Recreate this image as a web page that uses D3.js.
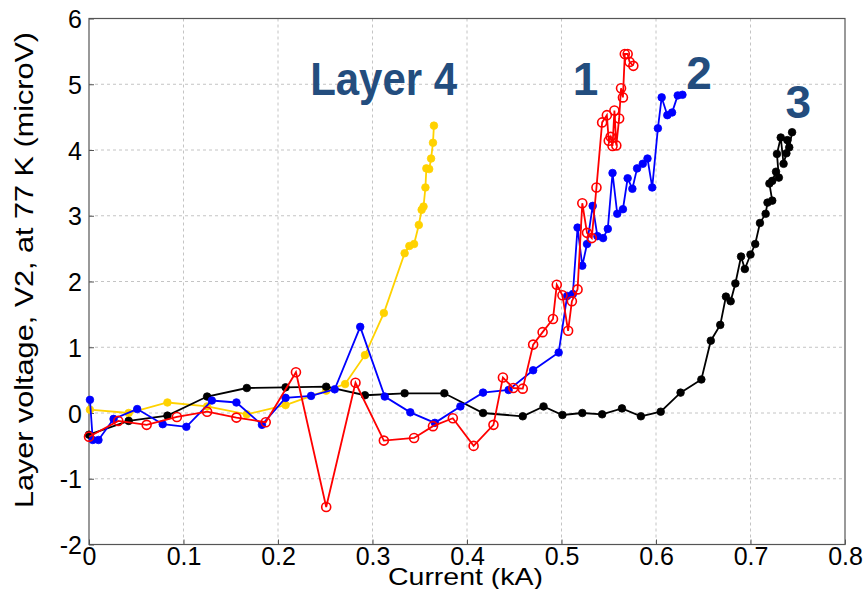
<!DOCTYPE html>
<html>
<head>
<meta charset="utf-8">
<script src="https://cdn.jsdelivr.net/npm/d3@7"></script>
<style>
  body { margin: 0; background: #fff; }
  text { font-family: "Liberation Sans", Arial, sans-serif; }
</style>
</head>
<body>
<div id="chart"></div>
<script>
// data: [current kA, voltage microV]
var layer1 = [[0.000,-0.36],[0.031,-0.12],[0.061,-0.18],[0.093,-0.06],[0.125,0.02],[0.156,-0.07],[0.187,-0.14],
  [0.219,0.62],[0.251,-1.43],[0.282,0.46],[0.312,-0.42],[0.344,-0.38],[0.364,-0.20],[0.385,-0.08],[0.407,-0.50],
  [0.428,-0.18],[0.438,0.54],[0.449,0.38],[0.459,0.37],[0.470,1.04],[0.480,1.23],[0.491,1.43],[0.495,1.95],
  [0.501,1.79],[0.507,1.25],[0.511,1.70],[0.517,1.88],[0.522,3.19],[0.527,2.74],[0.532,2.66],[0.537,3.43],
  [0.543,4.42],[0.548,4.53],[0.550,4.14],[0.552,4.20],[0.554,4.06],[0.556,4.60],[0.558,4.07],[0.561,4.48],
  [0.563,4.94],[0.565,4.80],[0.567,5.46],[0.570,5.46],[0.572,5.34],[0.576,5.28]];

var layer2 = [[0.001,0.20],[0.004,-0.41],[0.010,-0.41],[0.026,-0.09],[0.051,0.06],[0.078,-0.17],[0.103,-0.21],
  [0.130,0.19],[0.156,0.16],[0.183,-0.18],[0.208,0.23],[0.235,0.26],[0.260,0.36],[0.287,1.31],[0.313,0.25],
  [0.340,0.01],[0.366,-0.15],[0.393,0.10],[0.417,0.31],[0.444,0.35],[0.470,0.65],[0.497,0.92],[0.506,1.78],
  [0.512,1.81],[0.517,2.82],[0.522,2.24],[0.527,2.57],[0.533,3.15],[0.538,2.69],[0.544,2.66],[0.549,2.80],
  [0.554,3.65],[0.559,3.03],[0.565,3.10],[0.570,3.57],[0.575,3.41],[0.580,3.72],[0.586,3.79],[0.591,3.87],
  [0.596,3.43],[0.602,4.33],[0.606,4.80],[0.612,4.53],[0.617,4.57],[0.623,4.83],[0.628,4.84]];

var layer3 = [[0.000,-0.33],[0.042,-0.12],[0.083,-0.04],[0.125,0.25],[0.167,0.38],[0.208,0.39],[0.251,0.40],
  [0.292,0.27],[0.334,0.30],[0.376,0.30],[0.417,0.00],[0.459,-0.05],[0.481,0.10],[0.501,-0.03],[0.522,0.00],
  [0.543,-0.02],[0.564,0.07],[0.584,-0.05],[0.605,0.02],[0.626,0.31],[0.648,0.51],[0.658,1.10],[0.668,1.34],
  [0.674,1.77],[0.679,1.70],[0.684,1.97],[0.690,2.38],[0.694,2.19],[0.700,2.41],[0.705,2.57],[0.710,2.89],
  [0.716,3.03],[0.718,3.20],[0.723,3.23],[0.720,3.49],[0.723,3.53],[0.727,3.67],[0.730,3.58],[0.728,3.94],
  [0.732,4.19],[0.735,3.79],[0.738,3.95],[0.739,4.15],[0.741,4.04],[0.744,4.27]];

var layer4 = [[0.001,0.05],[0.042,0.00],[0.083,0.16],[0.125,0.10],[0.167,-0.02],[0.208,0.12],[0.251,0.34],
  [0.271,0.44],[0.292,0.88],[0.312,1.52],[0.334,2.43],[0.339,2.54],[0.344,2.57],[0.349,2.86],[0.352,3.09],
  [0.354,3.14],[0.356,3.43],[0.357,3.72],[0.360,3.71],[0.362,3.87],[0.364,4.11],[0.365,4.37]];

var xTicks = [0, 0.1, 0.2, 0.3, 0.4, 0.5, 0.6, 0.7, 0.8];
var xTickLabels = ["0", "0.1", "0.2", "0.3", "0.4", "0.5", "0.6", "0.7", "0.8"];
var yTicks = [-2, -1, 0, 1, 2, 3, 4, 5, 6];
var yTickLabels = ["-2", "-1", "0", "1", "2", "3", "4", "5", "6"];

var labels = [
  {text: "Layer 4", x: 0.234, y: 4.83},
  {text: "1", x: 0.512, y: 4.83},
  {text: "2", x: 0.632, y: 4.93},
  {text: "3", x: 0.737, y: 4.48}
];

var svgWidth = 867;
var svgHeight = 589;
var margin = {top: 18.5, right: 22, bottom: 44.5, left: 89};
var width = svgWidth - margin.left - margin.right;
var height = svgHeight - margin.top - margin.bottom;

var svg = d3.select("#chart")
  .append("svg")
  .attr("width", svgWidth)
  .attr("height", svgHeight);

var chartGroup = svg.append("g")
  .attr("transform", `translate(${margin.left}, ${margin.top})`);

var xScale = d3.scaleLinear().domain([0, 0.8]).range([0, width]);
var yScale = d3.scaleLinear().domain([-2, 6]).range([height, 0]);

// dashed grid
chartGroup.selectAll(".hgrid")
  .data(yTicks.slice(1, -1))
  .enter()
  .append("line")
  .attr("x1", 0).attr("x2", width)
  .attr("y1", d => yScale(d)).attr("y2", d => yScale(d))
  .attr("stroke", "#c4c4c4")
  .attr("stroke-dasharray", "3,3");

chartGroup.selectAll(".vgrid")
  .data(xTicks.slice(1, -1))
  .enter()
  .append("line")
  .attr("x1", d => xScale(d)).attr("x2", d => xScale(d))
  .attr("y1", 0).attr("y2", height)
  .attr("stroke", "#c4c4c4")
  .attr("stroke-dasharray", "3,3");

// axes (ticks pointing inward), plain hyphen minus like the original
var bottomAxis = d3.axisBottom(xScale).tickValues(xTicks).tickSizeInner(-5).tickSizeOuter(0)
  .tickFormat((d, i) => xTickLabels[i]);
var leftAxis = d3.axisLeft(yScale).tickValues(yTicks).tickSizeInner(-5).tickSizeOuter(0)
  .tickFormat((d, i) => yTickLabels[i]);

var xAxisG = chartGroup.append("g")
  .attr("transform", `translate(0, ${height})`)
  .call(bottomAxis);
xAxisG.selectAll("text")
  .attr("font-size", "25px")
  .attr("fill", "#000")
  .attr("dy", null)
  .attr("y", 20.5);

var yAxisG = chartGroup.append("g")
  .call(leftAxis);
yAxisG.selectAll("text")
  .attr("font-size", "25px")
  .attr("fill", "#000")
  .attr("x", -7)
  .attr("dy", "0.36em");

chartGroup.selectAll(".domain").remove();
chartGroup.selectAll(".tick line").attr("stroke", "#555");

// box
chartGroup.append("rect")
  .attr("width", width)
  .attr("height", height)
  .attr("fill", "none")
  .attr("stroke", "#555")
  .attr("stroke-width", 1.2);

// series
var line = d3.line().x(d => xScale(d[0])).y(d => yScale(d[1]));

function drawSeries(data, color, open) {
  chartGroup.append("path")
    .datum(data)
    .attr("d", line)
    .attr("fill", "none")
    .attr("stroke", color)
    .attr("stroke-width", 1.8);
  chartGroup.append("g")
    .selectAll("circle")
    .data(data)
    .enter()
    .append("circle")
    .attr("cx", d => xScale(d[0]))
    .attr("cy", d => yScale(d[1]))
    .attr("r", open ? 4.5 : 3.8)
    .attr("fill", open ? "none" : color)
    .attr("stroke", color)
    .attr("stroke-width", open ? 1.6 : 0.8);
}

drawSeries(layer4, "#ffd200", false);
drawSeries(layer3, "#000000", false);
drawSeries(layer2, "#0000ff", false);
drawSeries(layer1, "#ff0000", true);

// layer labels
chartGroup.selectAll(".layer_label")
  .data(labels)
  .enter()
  .append("text")
  .attr("x", d => xScale(d.x))
  .attr("y", d => yScale(d.y))
  .attr("font-size", "46px")
  .attr("font-weight", "bold")
  .attr("fill", "#234d7e")
  .attr("textLength", d => d.text.length > 1 ? 147 : null)
  .attr("lengthAdjust", "spacingAndGlyphs")
  .text(d => d.text);

// axis titles
svg.append("text")
  .attr("x", 388)
  .attr("y", 585)
  .attr("font-size", "24px")
  .attr("textLength", 155)
  .attr("lengthAdjust", "spacingAndGlyphs")
  .text("Current (kA)");

svg.append("text")
  .attr("transform", "translate(33, 508) rotate(-90)")
  .attr("font-size", "25px")
  .attr("textLength", 476)
  .attr("lengthAdjust", "spacingAndGlyphs")
  .text("Layer voltage, V2, at 77 K (microV)");
</script>
</body>
</html>
